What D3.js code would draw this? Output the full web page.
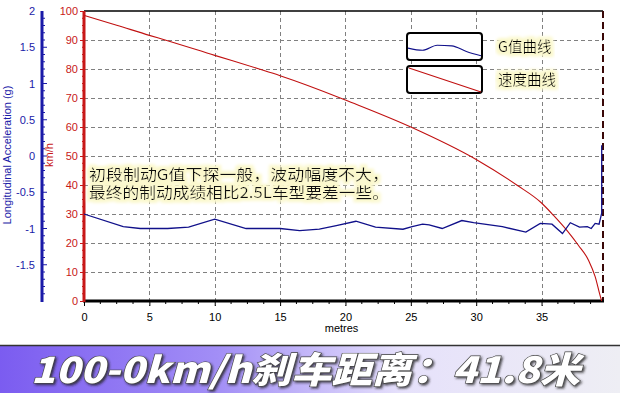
<!DOCTYPE html>
<html><head><meta charset="utf-8">
<script src="https://cdn.jsdelivr.net/npm/d3@7"></script>
<style>
html,body{margin:0;padding:0;background:#fff;}
svg{display:block;}
</style></head>
<body>
<svg id="c" width="620" height="393"></svg>
<script>
// ---- data ----
const speedDist = [0, 2.5, 5, 6.2, 10, 13.4, 15, 19.5, 20, 25, 30, 33.1, 35, 35.9, 37, 37.8, 38.6, 39.1, 39.5, 39.6];
const speedVal  = [98.5, 95.1, 91.6, 90, 84.7, 80, 77.7, 70.2, 69.3, 60, 48.8, 40, 33.8, 29.6, 24, 19.3, 14, 8.4, 1.5, 0];
const gDist = [0, 3.0, 4.3, 6.4, 8.0, 10, 12.4, 13.4, 15, 16.5, 18, 19.3, 20.8, 22.3, 24.4, 25.1, 25.9, 26.4, 27.4, 28.9, 29.8, 32, 33.8, 34.9, 35.8, 36.6, 37.2, 37.9, 38.5, 38.8, 39.1, 39.4, 39.6, 39.6];
const gVal  = [-0.80, -0.975, -1.0, -1.0, -0.98, -0.87, -1.0, -1.0, -1.0, -1.03, -1.01, -0.96, -0.90, -0.98, -1.01, -0.975, -0.94, -0.95, -1.0, -0.89, -0.92, -0.975, -1.05, -0.93, -0.94, -1.07, -0.92, -0.98, -0.975, -1.0, -0.93, -0.94, -0.79, 0.15];
const xTicks = [0, 5, 10, 15, 20, 25, 30, 35];
const speedTicks = [0, 10, 20, 30, 40, 50, 60, 70, 80, 90, 100];
const gTicks = [-1.5, -1, -0.5, 0, 0.5, 1, 1.5, 2];
const gTickLabels = ["-1.5", "-1", "-0.5", "0", "0.5", "1", "1.5", "2"];
const legendNames = ["G值曲线", "速度曲线"];
const legendGSample = [0.55, 0.65, 0.42, 0.45, 0.7, 0.9];
const noteLines = ["初段制动G值下探一般，波动幅度不大，", "最终的制动成绩相比2.5L车型要差一些。"];
const xLabel = "metres";
const leftLabel = "Longitudinal Acceleration (g)";
const speedLabel = "km/h";
const bannerText = "100-0km/h刹车距离：41.8米";

// ---- layout ----
const svg = d3.select("#c");
const L = 84, R = 603, T = 11, B = 301;
const x = d3.scaleLinear().domain([0, 39.7]).range([L, R]);
const yS = d3.scaleLinear().domain([0, 100]).range([B, T]);
const yG = d3.scaleLinear().domain([-2, 2]).range([B, T]);
const red = "#c81818", blue = "#1a1aa8";
const font = "'Liberation Sans', Arial, sans-serif";

const defs = svg.append("defs");
const grad = defs.append("linearGradient").attr("id", "bg").attr("x1", "0").attr("x2", "1").attr("y1", "0").attr("y2", "0");
grad.append("stop").attr("offset", "0").attr("stop-color", "#7b5cf0");
grad.append("stop").attr("offset", "0.35").attr("stop-color", "#a28ef6");
grad.append("stop").attr("offset", "0.65").attr("stop-color", "#e6e1fb");
grad.append("stop").attr("offset", "1").attr("stop-color", "#eeeef4");
const sh = defs.append("filter").attr("id", "sh").attr("x", "-5%").attr("y", "-20%").attr("width", "110%").attr("height", "140%");
sh.append("feDropShadow").attr("dx", 1.5).attr("dy", 1.5).attr("stdDeviation", 1.2).attr("flood-color", "#222").attr("flood-opacity", 0.8);
const glow = defs.append("filter").attr("id", "glow").attr("x", "-5%").attr("y", "-30%").attr("width", "110%").attr("height", "160%");
glow.append("feMorphology").attr("in", "SourceAlpha").attr("operator", "dilate").attr("radius", 2.5).attr("result", "d");
glow.append("feGaussianBlur").attr("in", "d").attr("stdDeviation", 1.5).attr("result", "b");
glow.append("feFlood").attr("flood-color", "#fbf8cc").attr("result", "f");
glow.append("feComposite").attr("in", "f").attr("in2", "b").attr("operator", "in").attr("result", "g");
const gm = glow.append("feMerge");
gm.append("feMergeNode").attr("in", "g");
gm.append("feMergeNode").attr("in", "SourceGraphic");

// grid
const grid = svg.append("g").attr("stroke", "#808080").attr("stroke-dasharray", "4,3").attr("stroke-width", 1);
grid.selectAll(".h").data(speedTicks.filter(d => d > 0 && d < 100)).enter().append("line")
  .attr("x1", L).attr("x2", R).attr("y1", d => Math.round(yS(d)) + 0.5).attr("y2", d => Math.round(yS(d)) + 0.5);
grid.selectAll(".v").data(xTicks.filter(d => d > 0)).enter().append("line")
  .attr("y1", T).attr("y2", B + 5).attr("x1", d => Math.round(x(d)) + 0.5).attr("x2", d => Math.round(x(d)) + 0.5);

// top border & right border
svg.append("line").attr("x1", L).attr("x2", R).attr("y1", T).attr("y2", T).attr("stroke", "#000").attr("stroke-width", 1.5);
svg.append("line").attr("x1", R).attr("x2", R).attr("y1", T).attr("y2", B).attr("stroke", "#3a0808").attr("stroke-width", 2).attr("stroke-dasharray", "7,4");

// x axis
const xAxis = d3.axisBottom(x).tickValues(xTicks).tickSize(5).tickPadding(7);
const gx = svg.append("g").attr("transform", `translate(0,${B})`).call(xAxis);
gx.select(".domain").remove();
gx.selectAll("line").attr("stroke", "#000");
gx.selectAll("text").attr("font-family", font).attr("font-size", 11).attr("fill", "#000");
const minorX = d3.range(0, 39.7, 1.25).filter(d => d % 5 !== 0);
svg.append("g").selectAll("line").data(minorX).enter().append("line")
  .attr("x1", d => x(d)).attr("x2", d => x(d)).attr("y1", B).attr("y2", B + 3).attr("stroke", "#000");
svg.append("line").attr("x1", L - 1).attr("x2", R + 1).attr("y1", B).attr("y2", B).attr("stroke", "#000").attr("stroke-width", 3);
svg.append("text").attr("x", x(19.7)).attr("y", 332).attr("text-anchor", "middle")
  .attr("font-family", font).attr("font-size", 11).attr("fill", "#000").text(xLabel);

// speed axis (red)
const sAxis = d3.axisLeft(yS).tickValues(speedTicks).tickSize(4).tickPadding(2);
const gs = svg.append("g").attr("transform", `translate(${L},0)`).call(sAxis);
gs.select(".domain").remove();
gs.selectAll("line").attr("stroke", red);
gs.selectAll("text").attr("font-family", font).attr("font-size", 11).attr("fill", red);
svg.append("g").selectAll("line").data(d3.range(0, 100, 2.5).filter(d => d % 10 !== 0)).enter().append("line")
  .attr("x1", L - 2).attr("x2", L).attr("y1", d => yS(d)).attr("y2", d => yS(d)).attr("stroke", red);
svg.append("line").attr("x1", L).attr("x2", L).attr("y1", T).attr("y2", B + 1).attr("stroke", red).attr("stroke-width", 3);
svg.append("text").attr("transform", `translate(53,155) rotate(-90)`).attr("text-anchor", "middle")
  .attr("font-family", font).attr("font-size", 11).attr("fill", red).text(speedLabel);

// G axis (blue)
const GX = 42;
const gAxis = d3.axisLeft(yG).tickValues(gTicks).tickFormat((d, i) => gTickLabels[i]).tickSize(0).tickPadding(7);
const gg = svg.append("g").attr("transform", `translate(${GX},0)`).call(gAxis);
gg.select(".domain").remove();
gg.selectAll("text").attr("font-family", font).attr("font-size", 11).attr("fill", blue);
svg.append("g").selectAll("line").data(d3.range(-19, 20).map(d => d / 10)).enter().append("line")
  .attr("x1", GX).attr("x2", d => GX + (Math.abs(d * 2 - Math.round(d * 2)) < 1e-6 ? 5 : 3))
  .attr("y1", d => yG(d)).attr("y2", d => yG(d)).attr("stroke", blue);
svg.append("line").attr("x1", GX).attr("x2", GX).attr("y1", T).attr("y2", B + 1).attr("stroke", blue).attr("stroke-width", 3);
svg.append("text").attr("transform", `translate(11,155) rotate(-90)`).attr("text-anchor", "middle")
  .attr("font-family", font).attr("font-size", 11).attr("fill", blue).text(leftLabel);

// curves
const speedData = speedDist.map((d, i) => [d, speedVal[i]]);
const gData = gDist.map((d, i) => [d, gVal[i]]);
svg.append("path").datum(speedData).attr("fill", "none").attr("stroke", "#c01010").attr("stroke-width", 1.1)
  .attr("d", d3.line().x(d => x(d[0])).y(d => yS(d[1])).curve(d3.curveMonotoneX));
svg.append("path").datum(gData).attr("fill", "none").attr("stroke", "#10108a").attr("stroke-width", 1.3)
  .attr("d", d3.line().x(d => x(d[0])).y(d => yG(d[1])));

// legend
const lx = 407, lw = 75, lh = 27, ly = [33, 66];
const lg = svg.append("g");
ly.forEach((yy, i) => {
  lg.append("rect").attr("x", lx).attr("y", yy).attr("width", lw).attr("height", lh).attr("rx", 3)
    .attr("fill", "#fff").attr("stroke", "#000").attr("stroke-width", 2);
  lg.append("text").attr("x", 498).attr("y", yy + 19).attr("font-family", "'Noto Sans CJK SC', sans-serif")
    .attr("font-size", 14.5).attr("fill", "#000").attr("filter", "url(#glow)").text(legendNames[i]);
});
const lsx = d3.scaleLinear().domain([0, legendGSample.length - 1]).range([lx + 1, lx + lw - 1]);
const lsy = d3.scaleLinear().domain([0, 1]).range([ly[0] + 3, ly[0] + lh - 2]);
lg.append("path").datum(legendGSample).attr("fill", "none").attr("stroke", "#10108a").attr("stroke-width", 1.1)
  .attr("d", d3.line().x((d, i) => lsx(i)).y(d => lsy(d)).curve(d3.curveMonotoneX));
lg.append("line").attr("x1", lx + 2).attr("y1", ly[1] + 2).attr("x2", lx + lw - 1).attr("y2", ly[1] + lh - 1)
  .attr("stroke", "#c01010").attr("stroke-width", 1.1);

// annotation (one text block, two lines)
const note = svg.append("text").attr("filter", "url(#glow)").attr("font-family", "'Noto Sans CJK SC', sans-serif")
  .attr("font-size", 15).attr("fill", "#111");
noteLines.forEach((t, i) => {
  note.append("tspan").attr("x", 89).attr("y", 180 + i * 18)
    .attr("textLength", 300).attr("lengthAdjust", "spacingAndGlyphs").text(t);
});

// banner
svg.append("rect").attr("x", 0).attr("y", 346).attr("width", 620).attr("height", 47).attr("fill", "url(#bg)");
svg.append("line").attr("x1", 0).attr("x2", 620).attr("y1", 345.5).attr("y2", 345.5).attr("stroke", "#333").attr("stroke-width", 1.5);
svg.append("text").attr("x", 31).attr("y", 383).attr("font-family", "'Noto Sans CJK SC', sans-serif")
  .attr("font-weight", 900).attr("font-style", "italic").attr("font-size", 36)
  .attr("textLength", 549).attr("lengthAdjust", "spacingAndGlyphs")
  .attr("fill", "#fff").attr("stroke", "#444").attr("stroke-width", 1.2).attr("paint-order", "stroke")
  .attr("filter", "url(#sh)").text(bannerText);
</script>
</body></html>
